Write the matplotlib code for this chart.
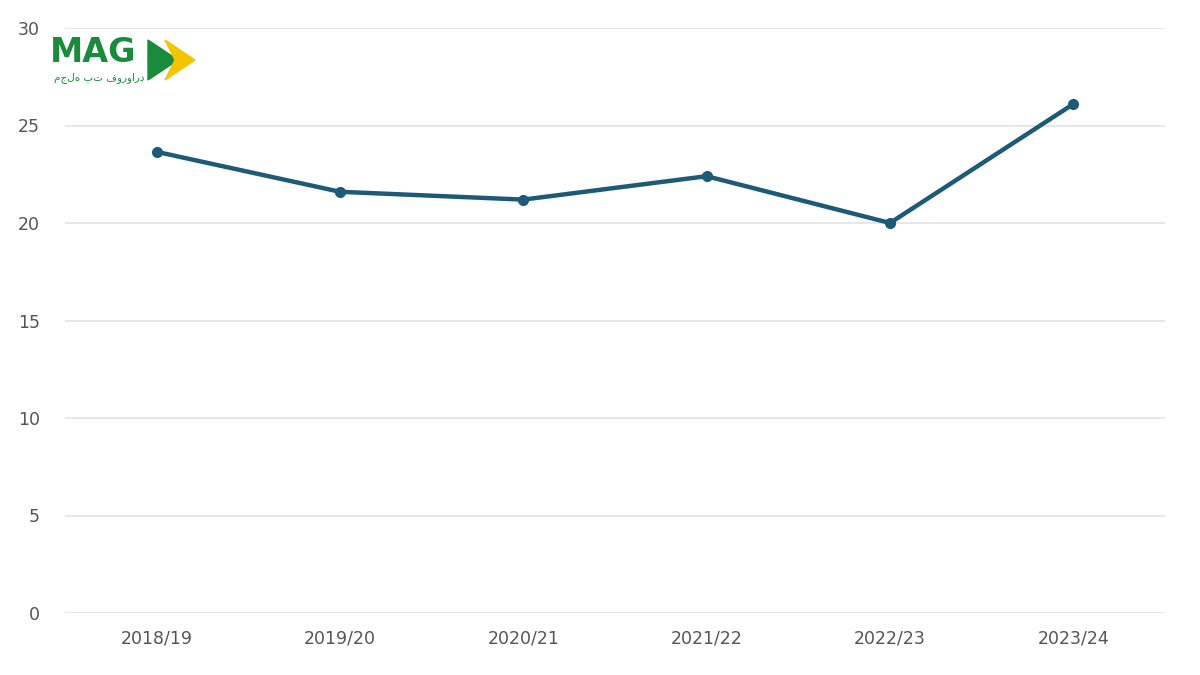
import matplotlib.pyplot as plt
from matplotlib.patches import Polygon

seasons = ['2018/19', '2019/20', '2020/21', '2021/22', '2022/23', '2023/24']
values = [23.65, 21.6, 21.2, 22.4, 20.0, 26.1]

fig = plt.figure(figsize=(12, 6.75), dpi=100)
ax = fig.add_axes([65 / 1200, 62 / 675, 1100 / 1200, 585 / 675])

ax.plot(range(len(seasons)), values, color='#1d5a78', linewidth=3.2,
        marker='o', markersize=7, zorder=3)

ax.set_xlim(-0.5, len(seasons) - 0.5)
ax.set_ylim(0, 30)
ax.set_yticks(range(0, 31, 5))
ax.set_xticks(range(len(seasons)))
ax.set_xticklabels(seasons)
ax.grid(axis='y', color='#e3e3e3', linewidth=1.2)
ax.set_axisbelow(True)
for s in ax.spines.values():
    s.set_visible(False)
ax.tick_params(length=0, labelsize=12.5, colors='#555555')
ax.tick_params(axis='y', pad=18)
ax.tick_params(axis='x', pad=12)

# logo
fig.text(50 / 1200, 1 - 53 / 675, 'MAG', fontsize=24, fontweight='bold',
         color='#1a8a3c', va='center', ha='left')
fig.text(145 / 1200, 1 - 78 / 675, 'مجله بت فوروارد', fontsize=7.5,
         color='#1a8a3c', va='center', ha='right', family=['DejaVu Sans'])
fig.patches.append(Polygon([[148 / 1200, 1 - 40 / 675], [148 / 1200, 1 - 80 / 675],
                            [178 / 1200, 1 - 60 / 675]], closed=True,
                           transform=fig.transFigure, color='#1a8a3c'))
fig.patches.append(Polygon([[165 / 1200, 1 - 40 / 675], [195 / 1200, 1 - 60 / 675],
                            [165 / 1200, 1 - 80 / 675], [175 / 1200, 1 - 60 / 675]],
                           closed=True, transform=fig.transFigure, color='#f2c500'))

fig.savefig('out.png', dpi=100)
